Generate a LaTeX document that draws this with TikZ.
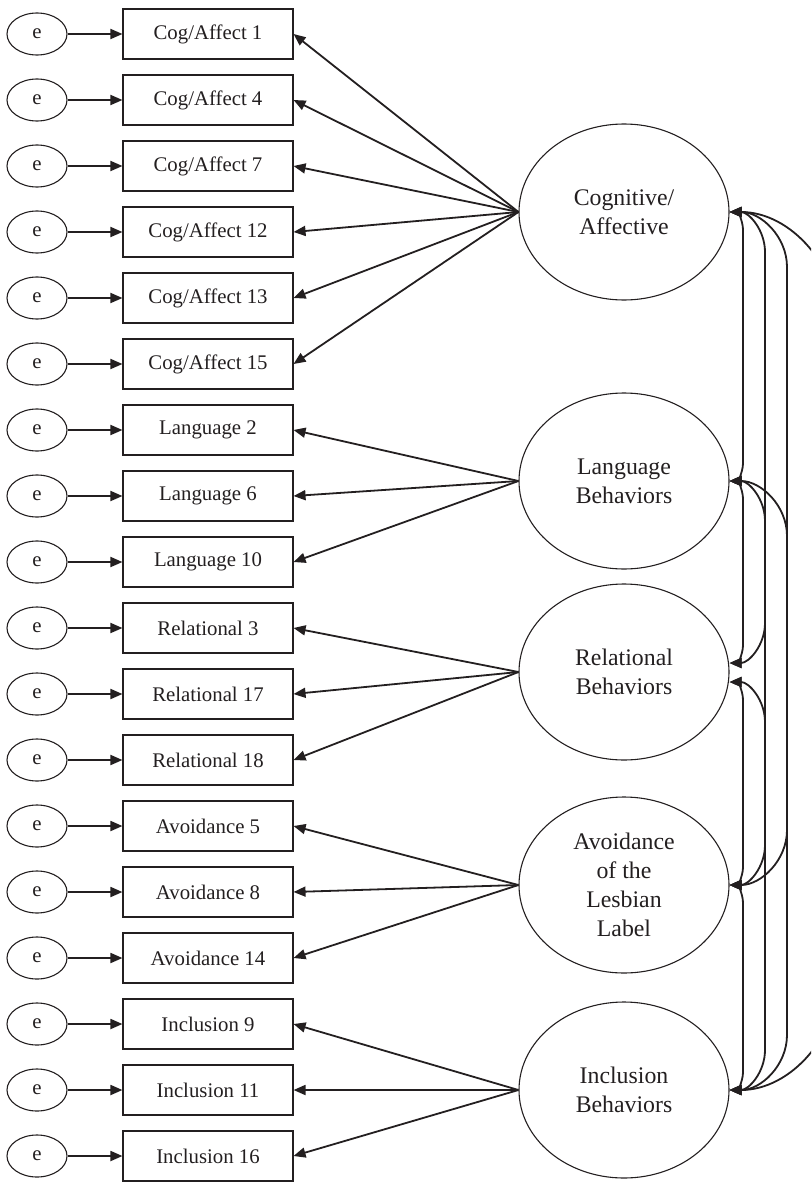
\documentclass[tikz,border=0pt]{standalone}
\usepackage{fontspec}
\setmainfont{Liberation Serif}
\usetikzlibrary{arrows.meta,shapes.geometric,calc}
\definecolor{ink}{HTML}{231F20}
\begin{document}
\begin{tikzpicture}[x=1pt,y=-1pt,
  ind/.style={draw=ink, line width=1.1pt, minimum width=170pt, minimum height=50pt, inner sep=0pt, font=\fontsize{20.8}{24}\selectfont, text=ink},
  err/.style={draw=ink, ellipse, line width=1.1pt, minimum width=60pt, minimum height=42pt, inner sep=0pt, font=\fontsize{20.8}{24}\selectfont, text=ink},
  lat/.style={draw=ink, ellipse, line width=1.1pt, minimum width=210pt, minimum height=176pt, inner sep=0pt, align=center, font=\fontsize{23.8}{29}\selectfont, text=ink},
  arr/.style={draw=ink, line width=1.8pt, -{Triangle[length=12pt,width=10pt]}},
  cov/.style={draw=ink, line width=1.8pt, {Triangle[length=12pt,width=10pt]}-{Triangle[length=12pt,width=10pt]}}]
\useasboundingbox (0,0) rectangle (811,1188);
\clip (0,0) rectangle (811,1188);
% indicators
\node[ind] (i1) at (208,34) {Cog/Affect 1};
\node[ind] (i2) at (208,100) {Cog/Affect 4};
\node[ind] (i3) at (208,166) {Cog/Affect 7};
\node[ind] (i4) at (208,232) {Cog/Affect 12};
\node[ind] (i5) at (208,298) {Cog/Affect 13};
\node[ind] (i6) at (208,364) {Cog/Affect 15};
\node[ind] (i7) at (208,430) {Language 2};
\node[ind] (i8) at (208,496) {Language 6};
\node[ind] (i9) at (208,562) {Language 10};
\node[ind] (i10) at (208,628) {Relational 3};
\node[ind] (i11) at (208,694) {Relational 17};
\node[ind] (i12) at (208,760) {Relational 18};
\node[ind] (i13) at (208,826) {Avoidance 5};
\node[ind] (i14) at (208,892) {Avoidance 8};
\node[ind] (i15) at (208,958) {Avoidance 14};
\node[ind] (i16) at (208,1024) {Inclusion 9};
\node[ind] (i17) at (208,1090) {Inclusion 11};
\node[ind] (i18) at (208,1156) {Inclusion 16};
% errors
\foreach \k/\y in {1/34,2/100,3/166,4/232,5/298,6/364,7/430,8/496,9/562,10/628,11/694,12/760,13/826,14/892,15/958,16/1024,17/1090,18/1156}{
  \node[err] (e\k) at (37,\y) {e};
  \draw[arr] (e\k) -- (i\k);
}
% latents
\node[lat] (F1) at (624,212) {Cognitive/\\Affective};
\node[lat] (F2) at (624,481) {Language\\Behaviors};
\node[lat] (F3) at (624,672) {Relational\\Behaviors};
\node[lat] (F4) at (624,885) {Avoidance\\of the\\Lesbian\\Label};
\node[lat] (F5) at (624,1090) {Inclusion\\Behaviors};
% loadings
\foreach \k in {1,...,6}{\draw[arr] (F1.west) -- (i\k.east);}
\foreach \k in {7,8,9}{\draw[arr] (F2.west) -- (i\k.east);}
\foreach \k in {10,11,12}{\draw[arr] (F3.west) -- (i\k.east);}
\foreach \k in {13,14,15}{\draw[arr] (F4.west) -- (i\k.east);}
\foreach \k in {16,17,18}{\draw[arr] (F5.west) -- (i\k.east);}
% covariances
\coordinate (F3a) at ($(F3.east)+(0,-9)$);
\coordinate (F3b) at ($(F3.east)+(0,10)$);
% distance 1
\draw[cov] (F1.east) .. controls (736.7,212) and (743,220) .. (743,230) -- (743,463) .. controls (743,473) and (736.7,481) .. (F2.east);
\draw[cov] (F2.east) .. controls (736.7,481) and (743,489) .. (743,499) -- (743,645) .. controls (743,655) and (736.7,663) .. (F3a);
\draw[cov] (F3b) .. controls (736.7,682) and (743,690) .. (743,700) -- (743,867) .. controls (743,877) and (736.7,885) .. (F4.east);
\draw[cov] (F4.east) .. controls (736.7,885) and (743,893) .. (743,903) -- (743,1072) .. controls (743,1082) and (736.7,1090) .. (F5.east);
% distance 2
\draw[cov] (F1.east) .. controls (748.9,212) and (765,230) .. (765,252) -- (765,623) .. controls (765,645) and (748.9,663) .. (F3a);
\draw[cov] (F2.east) .. controls (748.9,481) and (765,499) .. (765,521) -- (765,845) .. controls (765,867) and (748.9,885) .. (F4.east);
\draw[cov] (F3b) .. controls (748.9,682) and (765,700) .. (765,722) -- (765,1050) .. controls (765,1072) and (748.9,1090) .. (F5.east);
% distance 3
\draw[cov] (F1.east) .. controls (761,212) and (787,236.6) .. (787,267) -- (787,830) .. controls (787,860.4) and (761,885) .. (F4.east);
\draw[cov] (F2.east) .. controls (761,481) and (787,505.6) .. (787,536) -- (787,1035) .. controls (787,1065.4) and (761,1090) .. (F5.east);
% distance 4
\draw[cov] (F1.east) .. controls (790.3,212) and (840,265.8) .. (840,332) -- (840,970) .. controls (840,1036.2) and (790.3,1090) .. (F5.east);
\end{tikzpicture}
\end{document}
